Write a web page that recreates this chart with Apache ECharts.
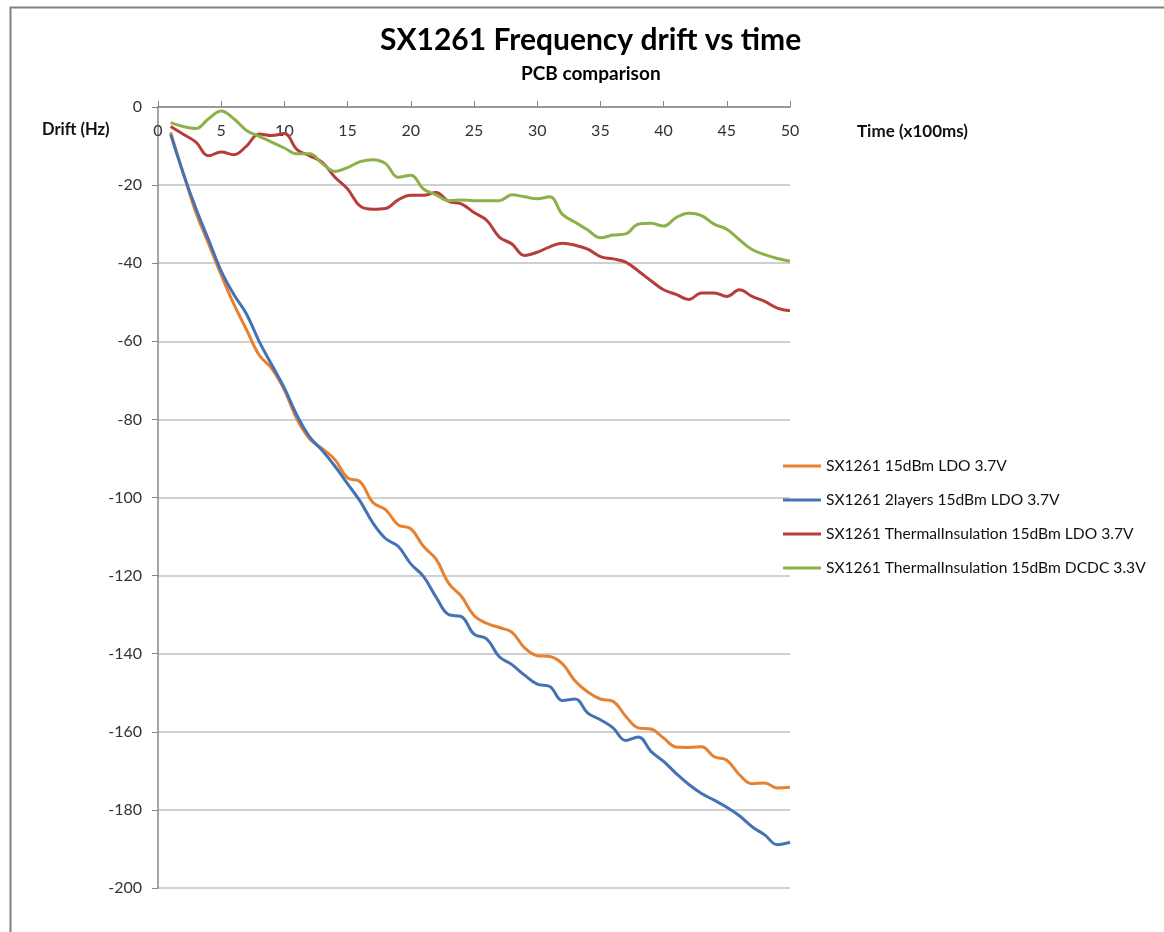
<!DOCTYPE html>
<html>
<head>
<meta charset="utf-8">
<title>SX1261 Frequency drift vs time</title>
<script src="https://cdn.jsdelivr.net/npm/echarts@6/dist/echarts.min.js"></script>
<style>
  html, body { margin: 0; padding: 0; background: #fff; }
  #main { width: 1164px; height: 932px; }
</style>
</head>
<body>
<div id="main"></div>
<script>
// time samples (x100ms)
var time = [1,2,3,4,5,6,7,8,9,10,11,12,13,14,15,16,17,18,19,20,21,22,23,24,25,
            26,27,28,29,30,31,32,33,34,35,36,37,38,39,40,41,42,43,44,45,46,47,48,49,50];

var ldo37 = [-6.5,-17,-27,-35,-43,-50.5,-57,-63.5,-67,-72.5,-80,-85,-87.5,-90.3,-95,-96,-101.3,-103.1,-107,-108,
             -112.5,-115.8,-122,-125.3,-130.2,-132.2,-133.3,-134.5,-138.5,-140.5,-140.7,-142.6,-147,-149.8,-151.6,
             -152.2,-156,-159,-159.3,-161.6,-163.9,-164,-163.8,-166.4,-167.3,-171,-173.3,-173.1,-174.4,-174.2];

var twoLayers = [-7,-17,-26,-34,-42,-48,-53,-60,-66,-72,-79,-84.5,-88,-92,-96.5,-101,-106.5,-110.5,-112.5,-117,
                 -120.2,-125.5,-130,-130.5,-135,-136.2,-140.8,-142.8,-145.5,-147.8,-148.4,-152,-151.6,-155.2,-156.9,
                 -159,-162.2,-161.3,-165,-167.6,-170.7,-173.5,-175.8,-177.5,-179.3,-181.5,-184.3,-186.4,-188.9,-188.3];

var thermalLdo = [-5,-7,-9,-12.5,-11.5,-12.2,-10,-6.9,-7.3,-6.8,-10.9,-12.5,-14.2,-18,-21,-25.4,-26.2,-26,-23.8,-22.6,
                  -22.6,-21.9,-24.2,-24.8,-27,-29,-33.3,-35.1,-38,-37.2,-35.8,-34.9,-35.4,-36.4,-38.3,
                  -38.9,-39.7,-42,-44.5,-46.8,-48,-49.3,-47.6,-47.6,-48.5,-46.8,-48.5,-49.8,-51.5,-52.2];

var thermalDcdc = [-4,-5,-5.5,-3,-1,-3,-6,-7.5,-9,-10.5,-12,-12,-14.5,-16.5,-15.5,-14,-13.5,-14.5,-18,-17.5,
                   -21,-22.5,-24,-23.8,-24,-24,-24,-22.5,-23,-23.5,-23,-27.5,-29.5,-31.5,-33.5,
                   -32.8,-32.5,-30,-29.8,-30.5,-28.3,-27.2,-27.8,-30,-31.3,-34,-36.5,-37.8,-38.8,-39.5];

var seriesNames = [
  'SX1261 15dBm LDO 3.7V',
  'SX1261 2layers 15dBm LDO 3.7V',
  'SX1261 ThermalInsulation 15dBm LDO 3.7V',
  'SX1261 ThermalInsulation 15dBm DCDC 3.3V'
];
var seriesColors = ['#E8812F', '#4472B4', '#B63D3A', '#8CB04A'];

var pairs = function (ys) {
  return time.map(function (t, i) { return [t, ys[i]]; });
};

var font = 'Lato, "Open Sans", sans-serif';

var chart = echarts.init(document.getElementById('main'));

var makeLine = function (idx, ys) {
  return {
    name: seriesNames[idx],
    type: 'line',
    data: pairs(ys),
    smooth: 0.4,
    showSymbol: false,
    symbol: 'none',
    lineStyle: { width: 3, color: seriesColors[idx] },
    itemStyle: { color: seriesColors[idx] },
    animation: false
  };
};

var option = {
  backgroundColor: '#fff',
  animation: false,
  title: [
    {
      text: 'SX1261 Frequency drift vs time',
      left: 380,
      top: 25,
      padding: 0,
      textStyle: { fontFamily: font, fontSize: 30, fontWeight: 'bold', color: '#000' }
    },
    {
      text: 'PCB comparison',
      left: 521,
      top: 64,
      padding: 0,
      textStyle: { fontFamily: font, fontSize: 19, fontWeight: 'bold', color: '#000' }
    }
  ],
  legend: {
    orient: 'vertical',
    left: 778,
    top: 453,
    itemWidth: 38,
    itemHeight: 3,
    itemGap: 18,
    icon: 'rect',
    textStyle: { fontFamily: font, fontSize: 15.6, color: '#111' },
    data: seriesNames
  },
  grid: { left: 158, right: 374, top: 107, bottom: 44, containLabel: false },
  xAxis: {
    type: 'value',
    position: 'top',
    min: 0,
    max: 50,
    interval: 5,
    axisLine: { show: true, onZero: false, lineStyle: { color: '#868686', width: 1.5 } },
    axisTick: { show: true, inside: false, length: 6, lineStyle: { color: '#868686' } },
    axisLabel: { inside: true, margin: 16, fontFamily: font, fontSize: 16, color: '#333' },
    splitLine: { show: false }
  },
  yAxis: {
    type: 'value',
    min: -200,
    max: 0,
    interval: 20,
    axisLine: { show: true, onZero: false, lineStyle: { color: '#868686', width: 1.5 } },
    axisTick: { show: true, length: 6, lineStyle: { color: '#868686' } },
    axisLabel: { margin: 16, fontFamily: font, fontSize: 16, color: '#333' },
    splitLine: { show: true, lineStyle: { color: '#c0c0c0', width: 1.5 } }
  },
  graphic: [
    {
      type: 'rect',
      left: 8, top: 5,
      shape: { width: 1300, height: 1100 },
      style: { fill: 'none', stroke: '#808080', lineWidth: 2 },
      silent: true
    },
    {
      type: 'text',
      left: 42, top: 121,
      style: { text: 'Drift (Hz)', fontFamily: font, fontSize: 16.5, fontWeight: 'bold', fill: '#111' }
    },
    {
      type: 'text',
      left: 857, top: 123,
      style: { text: 'Time (x100ms)', fontFamily: font, fontSize: 17, fontWeight: 'bold', fill: '#111' }
    }
  ],
  series: [
    makeLine(0, ldo37),
    makeLine(1, twoLayers),
    makeLine(2, thermalLdo),
    makeLine(3, thermalDcdc)
  ]
};

chart.setOption(option);
</script>
</body>
</html>
